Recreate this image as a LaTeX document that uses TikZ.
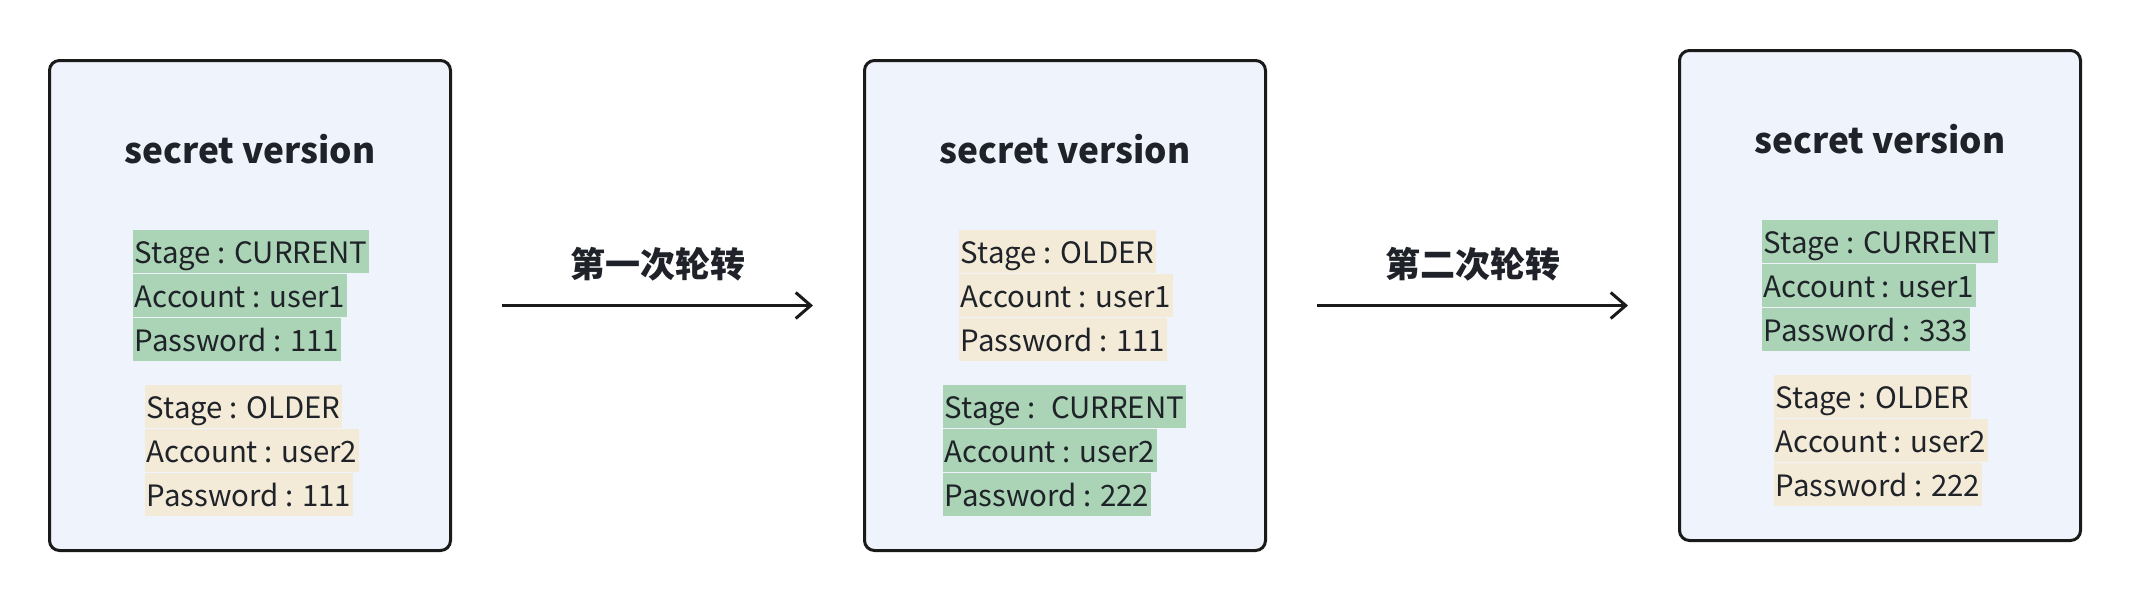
\documentclass[tikz,border=0pt]{standalone}
\usepackage{fontspec}
\setmainfont{Noto Sans CJK SC}
\usetikzlibrary{positioning,arrows.meta,calc}
\definecolor{ink}{HTML}{1F2329}
\definecolor{edge}{HTML}{1A1A1A}
\definecolor{pane}{HTML}{EFF3FB}
\definecolor{curg}{HTML}{AAD4B5}
\definecolor{oldy}{HTML}{F3EBD7}
\tikzset{
  >={Straight Barb[length=7.5pt,width=13pt]},
  vbox/.style={draw=edge, line width=1.5pt, rounded corners=5pt, fill=pane,
               minimum width=200.5pt, minimum height=245pt, inner sep=0pt},
  ttl/.style={font=\fontsize{17.6}{20}\selectfont\bfseries, text=ink, anchor=base, inner sep=0pt},
  row/.style={font=\fontsize{14.7}{16}\selectfont, text=ink, inner xsep=0.75pt, inner ysep=0pt,
              text height=16.5pt, text depth=5pt, anchor=north west},
  cur/.style={row, fill=curg},
  old/.style={row, fill=oldy},
  rot/.style={->, line width=1.5pt, draw=edge},
  rlab/.style={font=\fontsize{17.5}{20}\selectfont\bfseries, text=ink},
}
\begin{document}
\begin{tikzpicture}[x=1pt,y=-1pt]
  \useasboundingbox (0,0) rectangle (1065,300);
  % three secret versions
  \node[vbox] (v1) at (125,152.75) {};
  \node[vbox,right=205.5pt of v1] (v2) {};
  \node[vbox,right=205.5pt of v2,yshift=5pt] (v3) {};
  \node[ttl] (t1) at ($(v1.north)+(0,52)$) {secret version};
  \node[ttl] (t2) at ($(v2.north)+(0,52)$) {secret version};
  \node[ttl] (t3) at ($(v3.north)+(0,52)$) {secret version};
  % before rotation
  \node[cur] (a1) at ($(v1.north west)+(42.5,85.5)$) {Stage : CURRENT};
  \node[cur,below=0pt of a1.south west,anchor=north west] (a2) {Account : user1};
  \node[cur,below=0pt of a2.south west,anchor=north west] (a3) {Password : 111};
  \node[old] (b1) at ($(v1.north west)+(48.5,163)$) {Stage : OLDER};
  \node[old,below=0pt of b1.south west,anchor=north west] (b2) {Account : user2};
  \node[old,below=0pt of b2.south west,anchor=north west] (b3) {Password : 111};
  % after first rotation
  \node[old] (c1) at ($(v2.north west)+(48,85.5)$) {Stage : OLDER};
  \node[old,below=0pt of c1.south west,anchor=north west] (c2) {Account : user1};
  \node[old,below=0pt of c2.south west,anchor=north west] (c3) {Password : 111};
  \node[cur] (d1) at ($(v2.north west)+(40,163)$) {Stage : \ CURRENT};
  \node[cur,below=0pt of d1.south west,anchor=north west] (d2) {Account : user2};
  \node[cur,below=0pt of d2.south west,anchor=north west] (d3) {Password : 222};
  % after second rotation
  \node[cur] (e1) at ($(v3.north west)+(42,85.5)$) {Stage : CURRENT};
  \node[cur,below=0pt of e1.south west,anchor=north west] (e2) {Account : user1};
  \node[cur,below=0pt of e2.south west,anchor=north west] (e3) {Password : 333};
  \node[old] (f1) at ($(v3.north west)+(48,163)$) {Stage : OLDER};
  \node[old,below=0pt of f1.south west,anchor=north west] (f2) {Account : user2};
  \node[old,below=0pt of f2.south west,anchor=north west] (f3) {Password : 222};
  % rotations
  \draw[rot] ([xshift=25pt]v1.east) -- node[rlab,yshift=20.5pt] {第一次轮转} ([xshift=-25pt]v2.west);
  \draw[rot] ([xshift=25pt]v2.east) -- node[rlab,yshift=20.5pt] {第二次轮转} ($(v3.west |- v2.east)+(-25,0)$);
\end{tikzpicture}
\end{document}
